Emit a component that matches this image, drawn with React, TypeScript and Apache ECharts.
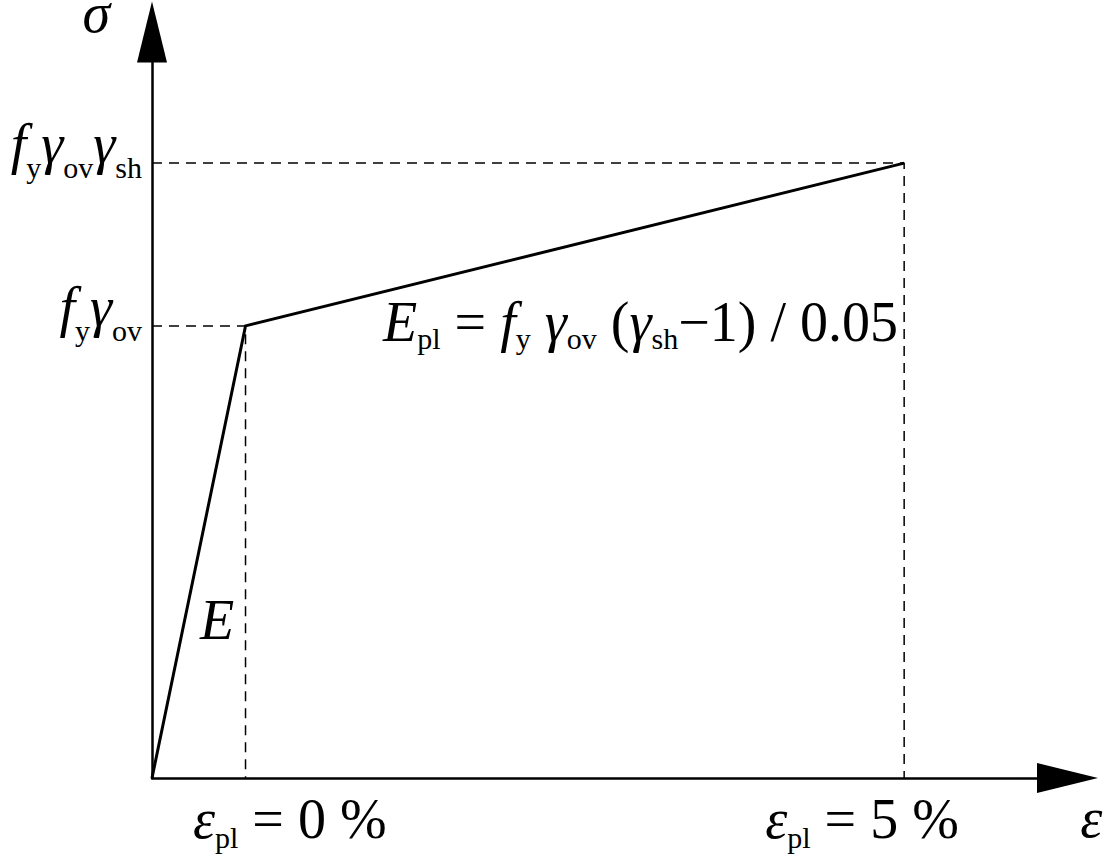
import React, { useEffect, useRef } from "react";
import * as echarts from "echarts";

// strain (schematic, %) and normalised stress of the bilinear law
const strain = [0, 0.71, 5.71];
const stress = [0, 1.0, 1.36];
const yTickValues = [1.0, 1.36];
const yTickLabels = ["{i|f}{sy|y}{i|γ}{sy|ov}", "{i|f}{sy|y}{i|γ}{sy|ov}{i|γ}{sy|sh}"];
const annotationText = [
  "{i|E}{s|pl}{r| = }{i|f}{s|y}{r| }{i|γ}{s|ov}{r| (}{i|γ}{s|sh}{r|−1) / 0.05}",
  "{i|E}",
  "{i|ε}{sx|pl}{r| = 0 %}",
  "{i|ε}{sx|pl}{r| = 5 %}",
  "{i|ε}",
];
const annotationX = [1.754, 0.364, 0.311, 4.655, 7.046];
const annotationY = [1.008, 0.35, -0.09, -0.09, -0.088];

const FONT = "Liberation Serif";
const MAIN = 56;
const SUB = 30;
const sub = (shift: number) => ({
  fontFamily: FONT,
  fontSize: SUB,
  color: "#000",
  verticalAlign: "middle",
  lineHeight: SUB,
  padding: [shift * 2, 0, 0, 0],
  textBorderWidth: 0,
});
const rich: any = {
  i: { fontFamily: FONT, fontStyle: "italic", fontSize: MAIN, color: "#000", textBorderWidth: 0 },
  r: { fontFamily: FONT, fontSize: MAIN, color: "#000", textBorderWidth: 0 },
  s: sub(16),
  sx: sub(19),
  sy: sub(23.5),
};

export default function App() {
  const ref = useRef<HTMLDivElement>(null);
  useEffect(() => {
    const chart = echarts.init(ref.current!, null, { renderer: "svg" });
    const xMax = 6.95;
    const yMax = 1.65;
    const axisLine = {
      show: true,
      onZero: false,
      symbol: ["none", "triangle"],
      symbolSize: [30, 61],
      lineStyle: { color: "#000", width: 2.5 },
    };
    const guideStyle = { color: "#000", width: 1.5, type: [10, 7] as any };
    chart.setOption({
      animation: false,
      backgroundColor: "#fff",
      grid: { left: 152, top: 32, right: 42.5, bottom: 86, containLabel: false, outerBoundsMode: "none" },
      xAxis: {
        type: "value",
        min: 0,
        max: xMax,
        axisLine,
        axisTick: { show: false },
        axisLabel: { show: false },
        splitLine: { show: false },
      },
      yAxis: {
        type: "value",
        min: 0,
        max: yMax,
        axisLine,
        axisTick: { show: false },
        splitLine: { show: false },
        axisLabel: {
          show: true,
          customValues: yTickValues,
          margin: 10,
          padding: [0, 0, 38, 0],
          formatter: (v: number) => yTickLabels[yTickValues.indexOf(v)] ?? "",
          rich,
        },
        name: "σ",
        nameLocation: "end",
        nameGap: 19,
        nameTextStyle: {
          fontFamily: FONT,
          fontStyle: "italic",
          fontSize: MAIN,
          lineHeight: 20,
          color: "#000",
          align: "right",
          verticalAlign: "middle",
          padding: [0, 42, 0, 0],
        },
      },
      series: [
        {
          type: "line",
          data: [
            [strain[0], stress[2]],
            [strain[2], stress[2]],
            [strain[2], stress[0]],
          ],
          symbol: "none",
          lineStyle: guideStyle,
          z: 1,
          silent: true,
        },
        {
          type: "line",
          data: [
            [strain[0], stress[1]],
            [strain[1], stress[1]],
            [strain[1], stress[0]],
          ],
          symbol: "none",
          lineStyle: guideStyle,
          z: 1,
          silent: true,
        },
        {
          type: "line",
          data: strain.map((x, k) => [x, stress[k]]),
          symbol: "none",
          lineStyle: { color: "#000", width: 3, join: "miter" },
          z: 3,
          silent: true,
        },
        {
          type: "scatter",
          clip: false,
          symbolSize: 0,
          silent: true,
          itemStyle: { color: "#000", opacity: 1 },
          data: annotationText.map((t, k) => ({
            value: [annotationX[k], annotationY[k]],
            label: {
              show: true,
              position: [0, 0],
              align: "left",
              verticalAlign: "middle",
              color: "#000",
              opacity: 1,
              textBorderWidth: 0,
              formatter: t,
              rich,
            },
          })),
          z: 4,
        },
      ],
    });
    return () => chart.dispose();
  }, []);
  return (
    <div
      ref={ref}
      style={{ position: "absolute", left: 0, top: 0, width: 1110, height: 864, background: "#fff" }}
    />
  );
}
